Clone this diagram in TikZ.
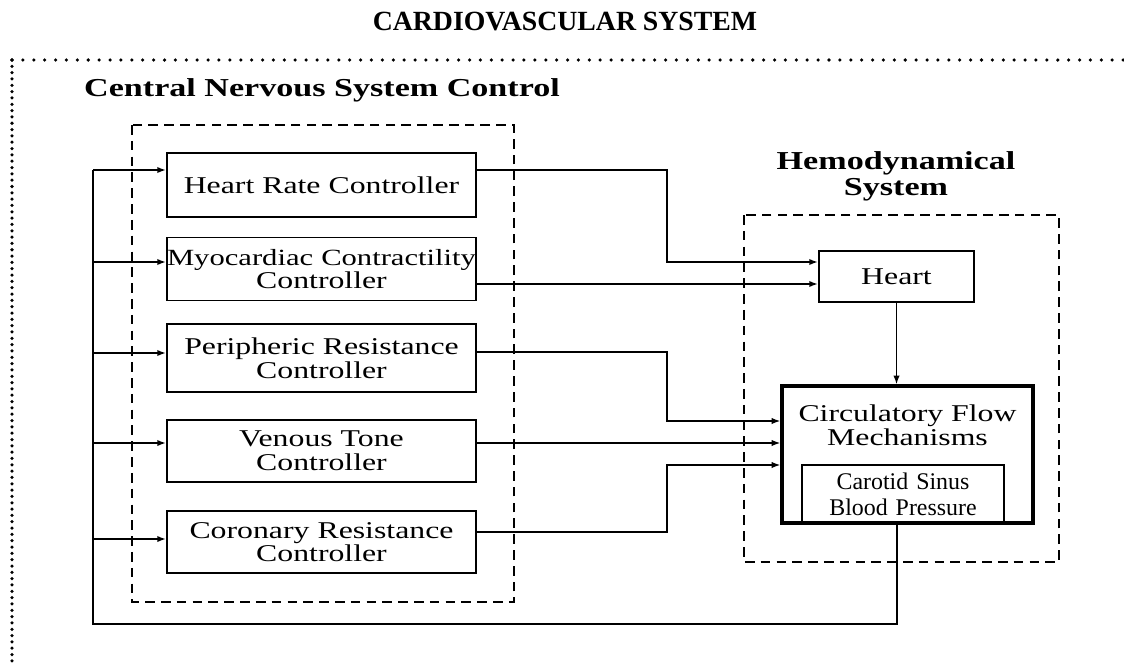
\documentclass[tikz,border=0pt]{standalone}
\usepackage{fontspec}
\setmainfont{Liberation Serif}[FakeStretch=1.32]
\newfontfamily\plainserif{Liberation Serif}
\usetikzlibrary{arrows.meta,positioning}

\tikzset{
	ctrlbox/.style={draw, line width=1.1pt, inner sep=0pt, align=center,
		font=\fontsize{13.7}{13.5}\selectfont},
	flow/.style={line width=0.9pt, -{Latex[length=5pt,width=3.6pt]}},
	wire/.style={line width=0.9pt},
	groupbox/.style={line width=1.1pt, dash pattern=on 5.5pt off 3.5pt},
	frame/.style={line width=2pt, line cap=round},
	heading/.style={align=center, font=\fontsize{14.7}{14.8}\selectfont\bfseries},
}

\begin{document}
\begin{tikzpicture}[x=0.02cm, y=-0.02cm]
			%%%%% FRAME %%%%%
			\useasboundingbox (0,0) rectangle (1124,666);
			
			\node[font=\plainserif\fontsize{15.8}{18}\selectfont\bfseries] (title) at (565,22) {CARDIOVASCULAR SYSTEM};
			\draw[frame, dash pattern=on 0pt off 3.6pt] (12,60) -- (12,666);
			\draw[frame, dash pattern=on 0pt off 6.2pt] (12,60) -- (1124,60);
			
			%%%%% CENTRAL NERVOUS SYSTEM %%%%%
			\node[heading, anchor=west] (cnslabel) at (78,90) {Central Nervous System Control};
			\draw[groupbox] (132,125) rectangle (514,602);
			
			\node[ctrlbox, text width=6.18cm, minimum height=1.28cm] (hr) at (321.5,185) {Heart Rate Controller};
			\node[ctrlbox, text width=6.18cm, minimum height=1.26cm] (myo) at (321.5,269) {\makebox[\linewidth]{\fontsize{13.2}{13.5}\selectfont Myocardiac Contractility}\\Controller};
			\node[ctrlbox, text width=6.18cm, minimum height=1.36cm] (peri) at (321.5,358) {Peripheric Resistance\\Controller};
			\node[ctrlbox, text width=6.18cm, minimum height=1.24cm] (ven) at (321.5,451) {Venous Tone\\Controller};
			\node[ctrlbox, text width=6.18cm, minimum height=1.24cm] (cor) at (321.5,542) {Coronary Resistance\\Controller};
			
			%%%%% HEMODYNAMICAL SYSTEM %%%%%
			\node[heading] (hemolabel) at (896,176) {Hemodynamical\\System};
			\draw[groupbox] (744,215) rectangle (1059,562);
			
			\node[ctrlbox, text width=3.1cm, minimum height=1.02cm] (heart) at (896.5,276.5) {Heart};
			\node[draw, line width=1.8pt, minimum width=5.02cm, minimum height=2.74cm] (circ) at (907.5,454.5) {};
			\node[align=center, font=\fontsize{13.7}{13.5}\selectfont] (circlabel) at (907.5,425) {Circulatory Flow\\Mechanisms};
			\node[ctrlbox, text width=4.04cm, minimum height=1.16cm, font=\plainserif\fontsize{13.6}{14.6}\selectfont] (carotid) at (903,494) {Carotid Sinus\\Blood Pressure};
			
			%%%%% CONNECTIONS %%%%%
			\coordinate (bus) at (93,170);
			\coordinate (mid) at (667,170);
			\coordinate (fb) at (897,624);
			
			\coordinate (hrin) at ([yshift=.3cm]hr.west);
			\coordinate (myoin) at ([yshift=.14cm]myo.west);
			\coordinate (periin) at ([yshift=.1cm]peri.west);
			\coordinate (venin) at ([yshift=.16cm]ven.west);
			\coordinate (corin) at ([yshift=.06cm]cor.west);
			
			\coordinate (hrout) at ([yshift=.3cm]hr.east);
			\coordinate (myoout) at ([yshift=-.3cm]myo.east);
			\coordinate (periout) at ([yshift=.12cm]peri.east);
			\coordinate (venout) at ([yshift=.16cm]ven.east);
			\coordinate (corout) at ([yshift=.2cm]cor.east);
			
			\coordinate (heartin) at ([yshift=.29cm]heart.west);
			\coordinate (circin) at ([yshift=.67cm]circ.west);
			\coordinate (circinlow) at ([yshift=-.21cm]circ.west);
			
			% feedback loop and bus
			\draw[wire] (circ.south -| fb) -- (fb) -| (bus);
			\draw[flow] (bus) -- (hrin);
			\draw[flow] (bus |- myoin) -- (myoin);
			\draw[flow] (bus |- periin) -- (periin);
			\draw[flow] (bus |- venin) -- (venin);
			\draw[flow] (bus |- corin) -- (corin);
			
			% controller outputs
			\draw[flow] (hrout) -- (hrout -| mid) |- (heartin);
			\draw[flow] (myoout) -- (myoout -| heart.west);
			\draw[flow] (periout) -- (periout -| mid) |- (circin);
			\draw[flow] (venout) -- (venout -| circ.west);
			\draw[flow] (corout) -- (corout -| mid) |- (circinlow);
			
			\draw[flow] (heart.south) -- (heart.south |- circ.north);
			
			%%%%% END %%%%%
\end{tikzpicture}
\end{document}
